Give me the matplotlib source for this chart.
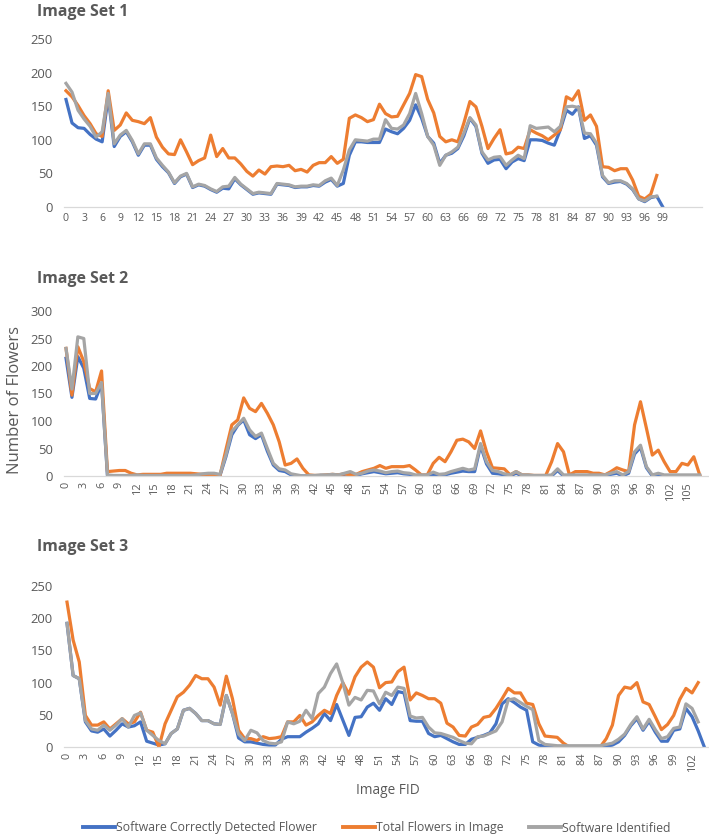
import matplotlib
matplotlib.use("Agg")
import matplotlib.pyplot as plt
from matplotlib.lines import Line2D

plt.rcParams['font.family'] = ['Open Sans', 'DejaVu Sans']

# Image Set 1 (FID 0..99)
set1_correct = [160, 125, 118, 117, 108, 101, 97, 164, 90, 105, 112, 97, 77, 92, 92, 71, 60, 51, 35, 45,
                49, 29, 33, 31, 26, 22, 28, 27, 42, 33, 26, 19, 21, 20, 19, 34, 33, 32, 29, 30,
                30, 32, 31, 37, 41, 31, 35, 77, 97, 97, 96, 96, 96, 116, 112, 109, 117, 129, 152, 132,
                105, 95, 65, 77, 80, 87, 106, 132, 120, 80, 65, 70, 71, 57, 67, 72, 69, 100, 100, 99,
                95, 92, 115, 144, 138, 149, 102, 106, 92, 45, 35, 37, 38, 34, 26, 12, 8, 14, 16, 0]
set1_total = [173, 164, 151, 136, 124, 109, 105, 173, 114, 122, 140, 129, 127, 124, 133, 104, 89, 79, 78, 100,
              82, 63, 69, 73, 107, 75, 87, 73, 73, 64, 53, 46, 55, 49, 60, 61, 60, 62, 54, 56,
              52, 62, 66, 66, 75, 65, 71, 132, 137, 133, 127, 130, 153, 139, 134, 135, 152, 169, 197, 194,
              160, 140, 105, 97, 100, 97, 125, 157, 149, 120, 87, 102, 115, 79, 81, 89, 87, 115, 110, 106,
              100, 107, 115, 164, 159, 173, 129, 137, 120, 60, 59, 54, 57, 57, 40, 16, 12, 19, 47]
set1_ident = [184, 171, 144, 131, 120, 104, 112, 169, 94, 107, 114, 99, 79, 94, 94, 73, 62, 52, 36, 46,
              50, 30, 34, 32, 27, 23, 30, 31, 44, 34, 27, 20, 22, 21, 20, 35, 34, 33, 30, 31,
              31, 33, 32, 39, 43, 32, 55, 85, 100, 99, 98, 101, 101, 130, 117, 116, 122, 139, 169, 139,
              105, 92, 62, 77, 82, 89, 110, 133, 122, 82, 70, 74, 75, 62, 70, 77, 72, 121, 117, 118,
              119, 112, 120, 149, 150, 148, 110, 109, 95, 47, 36, 39, 39, 35, 27, 12, 9, 15, 16]

# Image Set 2 (FID 0..107)
set2_correct = [214, 143, 217, 196, 141, 140, 168, 0, 0, 0, 0, 0, 1, 0, 0, 0, 0, 0, 0, 0,
                0, 0, 1, 2, 3, 3, 1, 35, 75, 92, 102, 75, 68, 75, 45, 20, 10, 8, 2, 0,
                0, 0, 0, 1, 1, 2, 1, 3, 4, 1, 4, 6, 8, 6, 4, 5, 6, 4, 3, 0,
                0, 0, 3, 1, 2, 5, 7, 9, 8, 8, 55, 22, 5, 4, 2, 0, 5, 0, 0, 0,
                0, 0, 0, 10, 0, 0, 0, 0, 0, 0, 0, 0, 3, 5, 0, 5, 40, 52, 15, 0,
                2, 0, 0, 0, 0, 0, 0, 0]
set2_total = [232, 147, 235, 208, 159, 153, 191, 8, 9, 10, 10, 5, 2, 3, 3, 3, 3, 5, 5, 5,
              5, 5, 4, 3, 3, 2, 1, 48, 93, 102, 142, 123, 117, 132, 114, 93, 62, 20, 23, 31,
              14, 2, 1, 1, 2, 3, 2, 4, 2, 3, 8, 11, 14, 19, 14, 17, 17, 17, 19, 11,
              2, 2, 23, 34, 26, 44, 65, 67, 62, 50, 82, 44, 15, 14, 13, 2, 8, 2, 2, 1,
              1, 1, 26, 59, 44, 2, 8, 8, 8, 5, 5, 2, 8, 15, 11, 8, 93, 135, 87, 38,
              47, 26, 8, 8, 23, 20, 35, 2]
set2_ident = [232, 158, 253, 250, 150, 150, 170, 2, 1, 1, 1, 1, 2, 1, 1, 1, 1, 1, 1, 1,
              1, 1, 2, 4, 5, 5, 3, 38, 81, 93, 105, 84, 72, 78, 50, 23, 13, 11, 4, 2,
              0, 1, 1, 2, 2, 3, 2, 5, 8, 3, 5, 9, 11, 9, 6, 8, 9, 6, 5, 2,
              2, 2, 7, 3, 4, 8, 11, 14, 11, 13, 59, 26, 10, 8, 4, 2, 8, 2, 2, 1,
              1, 1, 2, 13, 2, 2, 2, 2, 2, 2, 2, 2, 5, 8, 2, 8, 44, 56, 17, 2,
              5, 2, 2, 2, 2, 2, 2, 2]

# Image Set 3 (FID 0..104)
set3_correct = [192, 111, 106, 39, 25, 23, 28, 17, 26, 36, 31, 33, 39, 9, 6, 3, 5, 21, 28, 57,
                60, 52, 41, 41, 36, 35, 80, 52, 14, 8, 8, 6, 4, 3, 3, 12, 16, 16, 16, 23,
                29, 36, 52, 41, 66, 42, 18, 46, 47, 62, 68, 57, 75, 66, 86, 84, 41, 40, 40, 21,
                16, 18, 13, 8, 4, 4, 12, 15, 18, 22, 36, 67, 75, 69, 62, 57, 8, 3, 1, 0,
                0, 0, 0, 0, 0, 0, 0, 0, 1, 3, 8, 18, 33, 44, 26, 40, 23, 9, 9, 26,
                28, 60, 47, 25, 0]
set3_total = [225, 166, 132, 49, 34, 34, 39, 28, 36, 44, 36, 39, 54, 26, 23, 0, 36, 57, 78, 85,
              96, 111, 106, 106, 93, 65, 110, 75, 26, 13, 13, 10, 16, 13, 14, 16, 39, 39, 49, 34,
              39, 49, 57, 52, 80, 100, 82, 109, 124, 132, 124, 92, 100, 101, 117, 124, 73, 84, 80, 75,
              75, 68, 37, 31, 18, 17, 31, 35, 46, 48, 60, 75, 91, 84, 84, 68, 66, 36, 17, 16,
              15, 6, 0, 0, 0, 0, 0, 0, 13, 34, 80, 93, 91, 100, 70, 66, 47, 27, 35, 49,
              74, 91, 84, 100]
set3_ident = [192, 111, 106, 41, 28, 26, 34, 26, 34, 44, 31, 49, 53, 26, 18, 10, 5, 21, 28, 57,
              60, 52, 41, 41, 36, 35, 80, 52, 20, 10, 26, 22, 10, 6, 5, 8, 39, 36, 40, 57,
              44, 83, 93, 114, 129, 100, 65, 77, 73, 88, 87, 67, 85, 80, 93, 91, 48, 45, 46, 31,
              22, 21, 18, 15, 10, 6, 5, 16, 17, 21, 25, 39, 73, 75, 69, 63, 58, 10, 4, 3,
              2, 2, 2, 2, 2, 2, 2, 2, 4, 6, 12, 20, 35, 47, 28, 43, 27, 13, 16, 29,
              31, 67, 60, 39]

BLUE, ORANGE, GRAY = '#4472C4', '#ED7D31', '#A5A5A5'
TXT = '#595959'
W, H = 709, 840

fig = plt.figure(figsize=(W / 100, H / 100), dpi=100)

# (title, data, ymax, ystep, x label rotation, axes box in px, xlim, n categories)
panels = [
    ("Image Set 1", (set1_correct, set1_total, set1_ident), 250, 50, 0,
     (64, 39, 702, 207), (-0.33, 105.5), 100),
    ("Image Set 2", (set2_correct, set2_total, set2_ident), 300, 50, 90,
     (64, 311, 708, 476), (-0.34, 108.4), 108),
    ("Image Set 3", (set3_correct, set3_total, set3_ident), 250, 50, 90,
     (64, 586, 708, 747), (-0.49, 104.6), 105),
]
title_y = [12, 279, 547]

for k, (title, series, ymax, ystep, rot, box, xl, n) in enumerate(panels):
    x0, ytop, x1, ybot = box
    ax = fig.add_axes([x0 / W, 1 - ybot / H, (x1 - x0) / W, (ybot - ytop) / H])
    for vals, col in zip(series, (BLUE, ORANGE, GRAY)):
        ax.plot(range(len(vals)), vals, color=col, lw=2.3, solid_joinstyle='round')
    ax.set_xlim(*xl)
    ax.set_ylim(0, ymax)
    ax.set_yticks(range(0, ymax + 1, ystep))
    ax.set_xticks(range(0, n, 3))
    if rot:
        ax.set_xticklabels([str(v) for v in range(0, n, 3)], rotation=90, fontsize=7.8)
    else:
        ax.set_xticklabels([str(v) for v in range(0, n, 3)], fontsize=7.6)
    ax.tick_params(axis='both', length=0, colors=TXT)
    ax.tick_params(axis='y', labelsize=9.4, pad=8)
    ax.tick_params(axis='x', pad=4)
    for s in ('top', 'right', 'left'):
        ax.spines[s].set_visible(False)
    ax.spines['bottom'].set_color('#D9D9D9')
    ax.spines['bottom'].set_linewidth(0.9)
    ax.set_facecolor('none')
    fig.text(37 / W, 1 - title_y[k] / H, title, fontsize=11.4, fontweight='bold',
             color=TXT, ha='left', va='center')

fig.text(15 / W, 1 - 400 / H, "Number of Flowers", rotation=90, fontsize=12,
         color=TXT, ha='center', va='center')
fig.text(388 / W, 1 - 791 / H, "Image FID", fontsize=9.8, color=TXT,
         ha='center', va='center')

handles = [Line2D([], [], color=c, lw=2.8) for c in (BLUE, ORANGE, GRAY)]
labels = ["Software Correctly Detected Flower", "Total Flowers in Image", "Software Identified"]
fig.legend(handles, labels, loc='center', bbox_to_anchor=(377 / W, 1 - 828 / H), ncol=3,
           frameon=False, fontsize=8.8, handlelength=2.6, handletextpad=0.1,
           columnspacing=2.1, labelcolor=TXT)

fig.savefig("out.png", dpi=100, facecolor='white')
